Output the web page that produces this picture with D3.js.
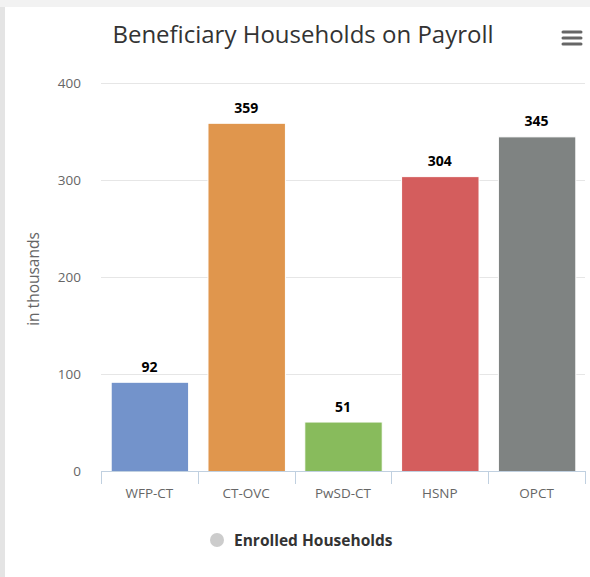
<!DOCTYPE html>
<html>
<head>
<meta charset="utf-8">
<script src="https://cdn.jsdelivr.net/npm/d3@7"></script>
<style>
body { margin: 0; background: #f2f2f2; }
svg { display: block; }
</style>
</head>
<body>
<svg width="590" height="577"></svg>
<script>
// chart data
var categories = ['WFP-CT', 'CT-OVC', 'PwSD-CT', 'HSNP', 'OPCT'];
var values = [92, 359, 51, 304, 345];
var colors = ['#7393cb', '#e0964d', '#88bb5c', '#d45d5d', '#7f8382'];
var yTicks = [0, 100, 200, 300, 400];
var seriesName = 'Enrolled Households';

var svg = d3.select('svg');

// card
svg.append('rect').attr('x', 0).attr('y', 7).attr('width', 5).attr('height', 570).attr('fill', '#e4e4e4');
svg.append('rect').attr('x', 5).attr('y', 7).attr('width', 585).attr('height', 570).attr('fill', '#ffffff');

var plotL = 101, plotR = 585, plotT = 83, plotB = 471;

var x = d3.scaleBand().domain(categories).range([plotL, plotR]);
var y = d3.scaleLinear().domain([0, 400]).range([plotB, plotT]);

// gridlines
svg.append('g').selectAll('line').data(yTicks.slice(1)).enter().append('line')
    .attr('x1', plotL).attr('x2', plotR)
    .attr('y1', function(d) { return Math.round(y(d)) + 0.5; }).attr('y2', function(d) { return Math.round(y(d)) + 0.5; })
    .attr('stroke', '#e6e6e6').attr('stroke-width', 1);

// y labels
svg.append('g').selectAll('text').data(yTicks).enter().append('text')
    .attr('x', 81).attr('y', function(d) { return y(d) + 5; })
    .attr('text-anchor', 'end').attr('font-family', 'Open Sans, sans-serif').attr('font-size', 13.5).attr('fill', '#666')
    .text(function(d) { return d; });

svg.append('text').attr('transform', 'translate(39,279) rotate(-90)')
    .attr('text-anchor', 'middle').attr('font-family', 'Open Sans, sans-serif').attr('font-size', 15.5).attr('fill', '#666')
    .text('in thousands');

// bars
var bw = x.bandwidth();
svg.append('g').selectAll('rect').data(values).enter().append('rect')
    .attr('x', function(d, i) { return x(categories[i]) + bw * 0.1 + 0.5; })
    .attr('width', bw * 0.8)
    .attr('y', function(d) { return y(d) + 0.5; })
    .attr('height', function(d) { return plotB - y(d); })
    .attr('fill', function(d, i) { return colors[i]; })
    .attr('stroke', '#ffffff').attr('stroke-width', 1);

// data labels
svg.append('g').selectAll('text').data(values).enter().append('text')
    .attr('x', function(d, i) { return x(categories[i]) + bw / 2; })
    .attr('y', function(d) { return y(d) - 10; })
    .attr('text-anchor', 'middle').attr('font-family', 'Open Sans, sans-serif').attr('font-weight', 'bold')
    .attr('font-size', 14).attr('fill', '#000')
    .text(function(d) { return d; });

// x axis
var xa = svg.append('g');
xa.append('line').attr('x1', plotL).attr('x2', plotR).attr('y1', plotB + 0.5).attr('y2', plotB + 0.5)
    .attr('stroke', '#c0d0e0');
xa.selectAll('line.tick').data(categories.concat(['end'])).enter().append('line').attr('class', 'tick')
    .attr('x1', function(d, i) { return Math.round(plotL + i * bw) + 0.5; })
    .attr('x2', function(d, i) { return Math.round(plotL + i * bw) + 0.5; })
    .attr('y1', plotB).attr('y2', plotB + 13)
    .attr('stroke', '#c0d0e0');
xa.selectAll('text').data(categories).enter().append('text')
    .attr('x', function(d) { return x(d) + bw / 2; })
    .attr('y', 498)
    .attr('text-anchor', 'middle').attr('font-family', 'Open Sans, sans-serif').attr('font-size', 13.5).attr('fill', '#666')
    .text(function(d) { return d; });

// title
svg.append('text').attr('x', 303).attr('y', 43)
    .attr('text-anchor', 'middle').attr('font-family', 'Open Sans, sans-serif').attr('font-size', 24).attr('fill', '#333')
    .text('Beneficiary Households on Payroll');

// menu icon
svg.append('g').selectAll('line').data([0, 1, 2]).enter().append('line')
    .attr('x1', 563).attr('x2', 581)
    .attr('y1', function(d) { return 32 + d * 6; }).attr('y2', function(d) { return 32 + d * 6; })
    .attr('stroke', '#666').attr('stroke-width', 3).attr('stroke-linecap', 'round');

// legend
svg.append('circle').attr('cx', 217).attr('cy', 540).attr('r', 7).attr('fill', '#cccccc');
svg.append('text').attr('x', 234).attr('y', 546)
    .attr('font-family', 'Open Sans, sans-serif').attr('font-weight', 'bold').attr('font-size', 15.5).attr('fill', '#333')
    .text(seriesName);
</script>
</body>
</html>
